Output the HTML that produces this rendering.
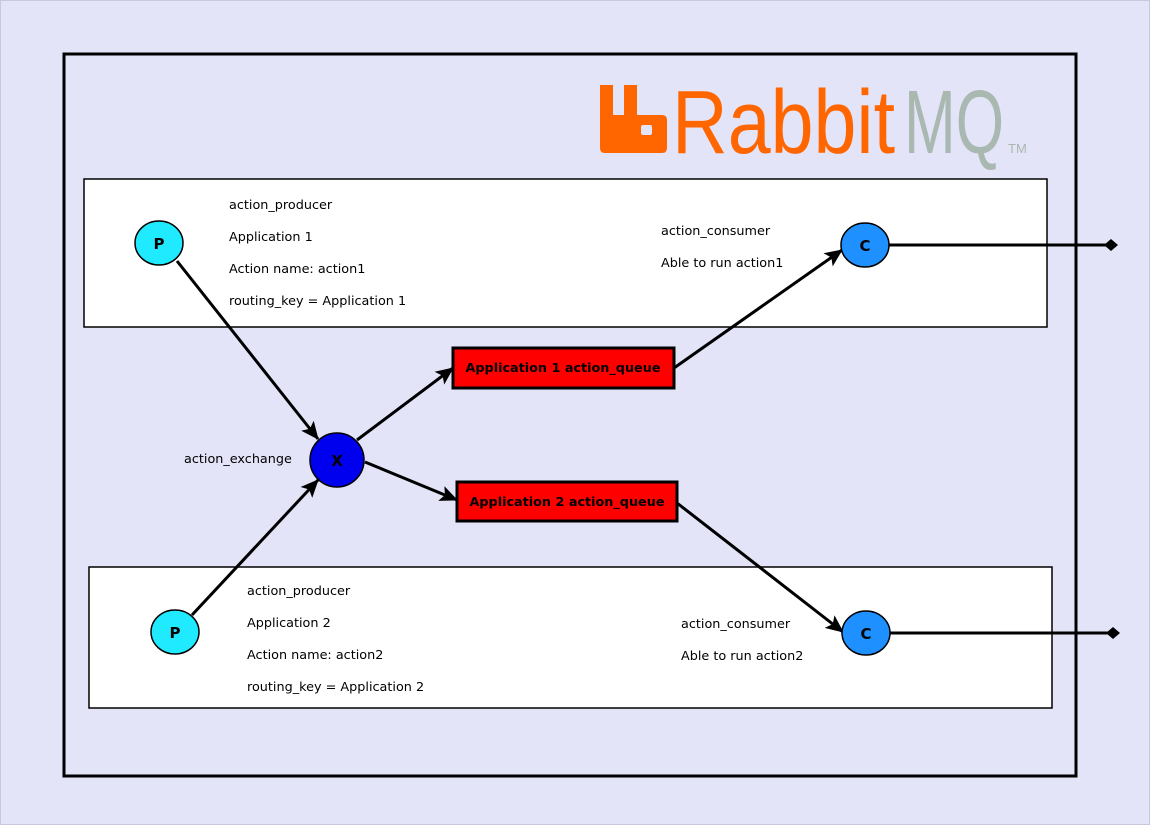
<!DOCTYPE html>
<html><head><meta charset="utf-8"><style>
html,body{margin:0;padding:0;background:#e4e4f8;}
svg{display:block;}
text{font-family:"DejaVu Sans","Liberation Sans",sans-serif;}
</style></head><body>
<svg width="1150" height="825" viewBox="0 0 1150 825" xmlns="http://www.w3.org/2000/svg">
<defs>
<marker id="a2" markerWidth="18" markerHeight="16" refX="17" refY="8" orient="auto" markerUnits="userSpaceOnUse" viewBox="0 0 18 16">
<path d="M0,0 L18,8 L0,16 L4,8 z" fill="#000"/></marker>
</defs>
<rect x="0" y="0" width="1150" height="825" fill="#e4e4f8"/>
<rect x="0.5" y="0.5" width="1149" height="824" fill="none" stroke="#c8c8dc" stroke-width="1"/>
<rect x="64" y="54" width="1012" height="722" fill="none" stroke="#000" stroke-width="3"/>
<!-- logo -->
<path d="M600,85 h13 v30 h11 v-30 h13 v30 h25 q5,0 5,5 v28 q0,5 -5,5 h-57 q-5,0 -5,-5 z" fill="#ff6600"/>
<rect x="641" y="125" width="11" height="10" rx="2" fill="#e4e4f8"/>
<text x="672" y="153" style="font-family:'Liberation Sans',sans-serif" font-size="90" fill="#ff6600" textLength="223" lengthAdjust="spacingAndGlyphs">Rabbit</text>
<text x="904" y="153" style="font-family:'Liberation Sans',sans-serif" font-size="90" fill="#a9b8b0" textLength="100" lengthAdjust="spacingAndGlyphs">MQ</text>
<text x="1008" y="153" style="font-family:'Liberation Sans',sans-serif" font-size="13" fill="#a9b8b0">TM</text>
<!-- boxes -->
<rect x="84" y="179" width="963" height="148" fill="#fff" stroke="#000" stroke-width="1.5"/>
<rect x="89" y="567" width="963" height="141" fill="#fff" stroke="#000" stroke-width="1.5"/>
<g font-size="12.8" fill="#000">
<text x="229" y="209">action_producer</text>
<text x="229" y="241">Application 1</text>
<text x="229" y="273">Action name: action1</text>
<text x="229" y="305">routing_key = Application 1</text>
<text x="661" y="235">action_consumer</text>
<text x="661" y="267">Able to run action1</text>
<text x="247" y="595">action_producer</text>
<text x="247" y="627">Application 2</text>
<text x="247" y="659">Action name: action2</text>
<text x="247" y="691">routing_key = Application 2</text>
<text x="681" y="628">action_consumer</text>
<text x="681" y="660">Able to run action2</text>
<text x="184" y="463">action_exchange</text>
</g>
<!-- edges -->
<g stroke="#000" stroke-width="3" fill="none">
<line x1="177" y1="261" x2="318" y2="439" marker-end="url(#a2)"/>
<line x1="192" y1="615" x2="318" y2="480" marker-end="url(#a2)"/>
<line x1="357" y1="440" x2="453" y2="368" marker-end="url(#a2)"/>
<line x1="365" y1="462" x2="457" y2="500" marker-end="url(#a2)"/>
<line x1="674" y1="368" x2="842" y2="250" marker-end="url(#a2)"/>
<line x1="677" y1="503" x2="843" y2="632" marker-end="url(#a2)"/>
<line x1="889" y1="245" x2="1110" y2="245"/>
<line x1="890" y1="633" x2="1112" y2="633"/>
</g>
<path d="M1104,245 l7,-6 l7,6 l-7,6 z" fill="#000"/>
<path d="M1106,633 l7,-6 l7,6 l-7,6 z" fill="#000"/>
<!-- nodes -->
<g stroke="#000" stroke-width="1.5">
<ellipse cx="159" cy="243" rx="24" ry="22" fill="#20eaff"/>
<ellipse cx="175" cy="632" rx="24" ry="22" fill="#20eaff"/>
<circle cx="337" cy="460" r="27" fill="#0000ee"/>
<ellipse cx="865" cy="245" rx="24" ry="22" fill="#1e90ff"/>
<ellipse cx="866" cy="633" rx="24" ry="22" fill="#1e90ff"/>
</g>
<rect x="453" y="348" width="221" height="40" fill="#ff0000" stroke="#000" stroke-width="3"/>
<rect x="457" y="482" width="220" height="39" fill="#ff0000" stroke="#000" stroke-width="3"/>
<g font-size="15" font-weight="bold" fill="#000" text-anchor="middle">
<text x="159" y="249">P</text>
<text x="175" y="638">P</text>
<text x="337" y="466">X</text>
<text x="865" y="251">C</text>
<text x="866" y="639">C</text>
</g>
<g font-size="12.7" font-weight="bold" fill="#000" text-anchor="middle">
<text x="563" y="372" textLength="195" lengthAdjust="spacingAndGlyphs">Application 1 action_queue</text>
<text x="567" y="506" textLength="195" lengthAdjust="spacingAndGlyphs">Application 2 action_queue</text>
</g>
</svg>
</body></html>
